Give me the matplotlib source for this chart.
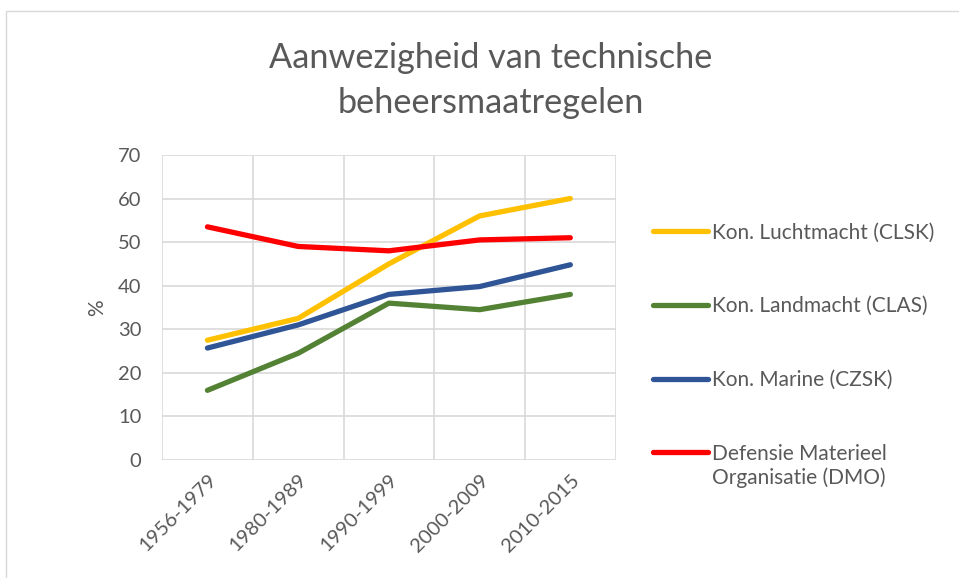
import matplotlib.pyplot as plt
from matplotlib.patches import Rectangle
from matplotlib.legend_handler import HandlerLine2D

periods = ["1956-1979", "1980-1989", "1990-1999", "2000-2009", "2010-2015"]
clsk = [27.5, 32.5, 45.0, 56.0, 60.0]
clas = [16.0, 24.5, 36.0, 34.5, 38.0]
czsk = [25.7, 31.0, 38.0, 39.8, 44.8]
dmo = [53.5, 49.0, 48.0, 50.5, 51.0]

series = [
    ("Kon. Luchtmacht (CLSK)", clsk, "#FFC000"),
    ("Kon. Landmacht (CLAS)", clas, "#548235"),
    ("Kon. Marine (CZSK)", czsk, "#2F5597"),
    ("Defensie Materieel\nOrganisatie (DMO)", dmo, "#FF0000"),
]


class TopLineHandler(HandlerLine2D):
    # put the legend line next to the first line of a two-line label
    def __init__(self, shift, **kw):
        super().__init__(**kw)
        self.shift = shift

    def create_artists(self, legend, orig_handle, xdescent, ydescent, width,
                       height, fontsize, trans):
        return super().create_artists(legend, orig_handle, xdescent,
                                      ydescent - self.shift, width, height,
                                      fontsize, trans)


plt.rcParams['font.family'] = ['Lato', 'DejaVu Sans']
grey = "#595959"

fig = plt.figure(figsize=(9.59, 5.78), dpi=100)
ax = fig.add_axes([0.169, 0.204, 0.473, 0.528])

# chart border
fig.add_artist(Rectangle((0.006, -0.01), 1.0, 0.991, transform=fig.transFigure,
                         fill=False, edgecolor="#D9D9D9", linewidth=1))

x = list(range(len(periods)))
lines = []
for name, vals, col in series:
    ln, = ax.plot(x, vals, color=col, linewidth=3.8, solid_capstyle='round', label=name)
    lines.append(ln)

ax.set_xlim(-0.5, len(periods) - 0.5)
ax.set_ylim(0, 70)
ax.set_yticks(range(0, 71, 10))
ax.set_xticks([i + 0.5 for i in range(-1, len(periods))], minor=False)
ax.set_xticklabels([])
ax.set_xticks(x, minor=True)
ax.set_xticklabels(periods, minor=True, rotation=45, ha='right', rotation_mode='anchor',
                   fontsize=14.5, color=grey)
ax.tick_params(axis='x', which='both', length=0, pad=8)
ax.tick_params(axis='y', length=0, labelsize=14.5, labelcolor=grey, pad=15)
ax.grid(True, which='major', color="#D9D9D9", linewidth=1.2)
ax.set_axisbelow(True)
for s in ax.spines.values():
    s.set_visible(False)
ax.set_ylabel("%", fontsize=15, color=grey, labelpad=8)

fig.suptitle("Aanwezigheid van technische\nbeheersmaatregelen", x=0.512, y=0.928,
             fontsize=24.7, color=grey, linespacing=1.5)

fig.legend(handles=lines, loc='upper left', bbox_to_anchor=(0.681, 0.615),
           frameon=False, fontsize=15, labelcolor=grey, handlelength=2.65,
           handletextpad=0.2, labelspacing=2.58, borderpad=0, borderaxespad=0,
           handler_map={lines[3]: TopLineHandler(shift=21)})

fig.savefig("out.png", dpi=100)
